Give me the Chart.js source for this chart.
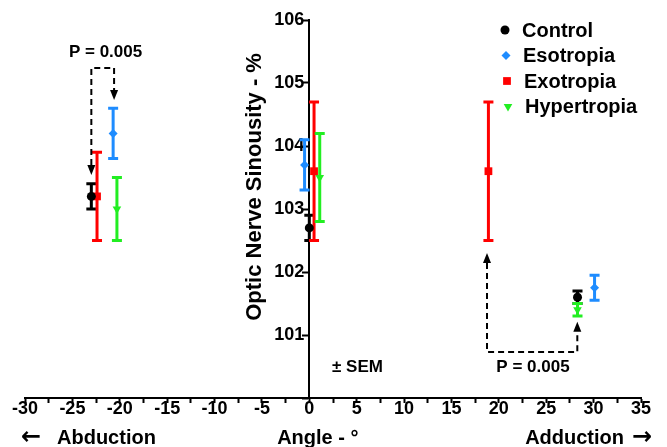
<!DOCTYPE html>
<html>
<head>
<meta charset="utf-8">
<script src="https://cdn.jsdelivr.net/npm/chart.js@4/dist/chart.umd.min.js"></script>
<style>
html,body{margin:0;padding:0;background:#fff;}
#wrap{width:667px;height:447px;position:relative;}
</style>
</head>
<body>
<div id="wrap"><canvas id="c" width="667" height="447"></canvas></div>
<script>
// ---- data ----
const seriesNames = ['Control', 'Esotropia', 'Exotropia', 'Hypertropia'];

const controlX = [-23.0, 0.0, 28.3];
const controlY = [103.2, 102.7, 101.6];
const controlSEM = [0.2, 0.2, 0.1];

const esotropiaX = [-20.7, -0.5, 30.1];
const esotropiaY = [104.2, 103.7, 101.75];
const esotropiaSEM = [0.4, 0.4, 0.2];

const exotropiaX = [-22.4, 0.5, 18.9];
const exotropiaY = [103.2, 103.6, 103.6];
const exotropiaSEM = [0.7, 1.1, 1.1];

const hypertropiaX = [-20.3, 1.1, 28.3];
const hypertropiaY = [103.0, 103.5, 101.4];
const hypertropiaSEM = [0.5, 0.7, 0.1];

const xTickLabels = [-30, -25, -20, -15, -10, -5, 0, 5, 10, 15, 20, 25, 30, 35];
const yTickLabels = [101, 102, 103, 104, 105, 106];

const pValueText = 'P = 0.005';
const semText = '\u00B1 SEM';
const yTitle = 'Optic Nerve Sinousity - %';
const xTitle = 'Angle - \u00B0';
const leftDirText = 'Abduction';
const rightDirText = 'Adduction';
const leftArrow = '\u2190';
const rightArrow = '\u2192';

// ---- styles ----
const FONT = "'Liberation Sans', Arial, Helvetica, sans-serif";
const ARROW_FONT = "'DejaVu Sans', 'Liberation Sans', sans-serif";
const seriesStyle = {
  Control:     { color: '#000000', pointStyle: 'circle',  radius: 4.5, rotation: 0 },
  Esotropia:   { color: '#1E8CFF', pointStyle: 'rectRot', radius: 4.5, rotation: 0 },
  Exotropia:   { color: '#FF0000', pointStyle: 'rect',    radius: 5.5, rotation: 0 },
  Hypertropia: { color: '#22EE22', pointStyle: 'triangle',radius: 5,   rotation: 180 }
};
const seriesData = {
  Control: [controlX, controlY, controlSEM],
  Esotropia: [esotropiaX, esotropiaY, esotropiaSEM],
  Exotropia: [exotropiaX, exotropiaY, exotropiaSEM],
  Hypertropia: [hypertropiaX, hypertropiaY, hypertropiaSEM]
};

const datasets = seriesNames.map(name => {
  const [xs, ys, sem] = seriesData[name];
  const st = seriesStyle[name];
  return {
    label: name,
    data: xs.map((v, i) => ({ x: v, y: ys[i] })),
    sem: sem,
    showLine: false,
    pointStyle: st.pointStyle,
    pointRadius: st.radius,
    pointRotation: st.rotation,
    pointBackgroundColor: st.color,
    pointBorderColor: st.color,
    pointBorderWidth: 0,
    backgroundColor: st.color,
    borderColor: st.color
  };
});

// ---- plugins ----
const errorBars = {
  id: 'errorBars',
  beforeDatasetsDraw(chart) {
    const { ctx, scales: { x, y } } = chart;
    chart.data.datasets.forEach(ds => {
      ctx.save();
      ctx.strokeStyle = ds.borderColor;
      ctx.lineWidth = 3;
      ctx.lineCap = 'butt';
      ds.data.forEach((p, j) => {
        const px = x.getPixelForValue(p.x);
        const yt = y.getPixelForValue(p.y + ds.sem[j]);
        const yb = y.getPixelForValue(p.y - ds.sem[j]);
        ctx.beginPath();
        ctx.moveTo(px, yt); ctx.lineTo(px, yb);
        ctx.moveTo(px - 5, yt); ctx.lineTo(px + 5, yt);
        ctx.moveTo(px - 5, yb); ctx.lineTo(px + 5, yb);
        ctx.stroke();
      });
      ctx.restore();
    });
  }
};

// comparison brackets in data units
const brackets = [
  { x1: -23.0, tip1: 103.54, x2: -20.6, tip2: 104.73, level: 105.24 },
  { x1: 18.75, tip1: 102.3, x2: 28.28, tip2: 101.21, level: 100.73 }
];
const notes = [
  { text: pValueText, x: -21.5, y: 105.49, align: 'center' },
  { text: pValueText, x: 23.6, y: 100.48, align: 'center' },
  { text: semText, x: 2.4, y: 100.48, align: 'left' }
];

const annotations = {
  id: 'annotations',
  afterDraw(chart) {
    const { ctx, scales: { x, y }, chartArea } = chart;
    ctx.save();
    // brackets
    ctx.strokeStyle = '#000';
    ctx.fillStyle = '#000';
    ctx.lineWidth = 2;
    const AH = 10, AW = 4;
    brackets.forEach(b => {
      const xa = x.getPixelForValue(b.x1), xb = x.getPixelForValue(b.x2);
      const yl = y.getPixelForValue(b.level);
      const ya = y.getPixelForValue(b.tip1), yb = y.getPixelForValue(b.tip2);
      const da = ya > yl ? 1 : -1, db = yb > yl ? 1 : -1;
      ctx.setLineDash([6, 4]);
      ctx.beginPath();
      ctx.moveTo(xa, ya - da * AH);
      ctx.lineTo(xa, yl);
      ctx.lineTo(xb, yl);
      ctx.lineTo(xb, yb - db * AH);
      ctx.stroke();
      ctx.setLineDash([]);
      [[xa, ya, da], [xb, yb, db]].forEach(([ax, ay, d]) => {
        ctx.beginPath();
        ctx.moveTo(ax, ay);
        ctx.lineTo(ax - AW, ay - d * AH);
        ctx.lineTo(ax + AW, ay - d * AH);
        ctx.closePath();
        ctx.fill();
      });
    });
    // notes
    ctx.font = 'bold 17px ' + FONT;
    ctx.textBaseline = 'middle';
    notes.forEach(n => {
      ctx.textAlign = n.align;
      ctx.fillText(n.text, x.getPixelForValue(n.x), y.getPixelForValue(n.y));
    });
    // y axis title
    ctx.save();
    ctx.font = 'bold 22px ' + FONT;
    ctx.textAlign = 'center';
    ctx.textBaseline = 'middle';
    ctx.translate(x.getPixelForValue(0) - 54, y.getPixelForValue(103.35));
    ctx.rotate(-Math.PI / 2);
    ctx.fillText(yTitle, 0, 0);
    ctx.restore();
    // x titles
    const ty = 438;
    ctx.textBaseline = 'middle';
    ctx.font = 'bold 24px ' + ARROW_FONT;
    ctx.textAlign = 'left';
    ctx.fillText(leftArrow, chartArea.left - 4, ty);
    ctx.textAlign = 'right';
    ctx.fillText(rightArrow, chartArea.right + 11, ty);
    ctx.font = 'bold 20px ' + FONT;
    ctx.textAlign = 'left';
    ctx.fillText(leftDirText, chartArea.left + 32, ty);
    ctx.textAlign = 'center';
    ctx.fillText(xTitle, x.getPixelForValue(0.9), ty);
    ctx.textAlign = 'right';
    ctx.fillText(rightDirText, chartArea.right - 17, ty);
    // legend
    ctx.font = 'bold 20px ' + FONT;
    ctx.textAlign = 'left';
    ctx.textBaseline = 'middle';
    seriesNames.forEach((name, i) => {
      const st = seriesStyle[name];
      const ly = 30 + i * 25.5;
      ctx.fillStyle = st.color;
      ctx.strokeStyle = st.color;
      Chart.helpers.drawPoint(ctx, {
        pointStyle: st.pointStyle,
        radius: st.radius,
        rotation: st.rotation,
        borderWidth: 0
      }, 505 + i, ly);
      ctx.fillStyle = '#000';
      ctx.fillText(name, 522 + i, ly + 1);
    });
    ctx.restore();
  }
};

new Chart(document.getElementById('c'), {
  type: 'scatter',
  data: { datasets },
  options: {
    responsive: false,
    animation: false,
    events: [],
    layout: { padding: { left: 25, right: 26, top: 20, bottom: 0 } },
    plugins: {
      legend: { display: false },
      tooltip: { enabled: false },
      title: { display: false }
    },
    scales: {
      x: {
        type: 'linear',
        position: 'bottom',
        min: -30,
        max: 35,
        afterFit(s) { s.height = 49; },
        border: { display: true, color: '#000', width: 2 },
        grid: { display: true, drawOnChartArea: false, drawTicks: true, tickLength: 5, tickColor: '#000', tickWidth: 2 },
        ticks: {
          stepSize: 2.5,
          autoSkip: false,
          maxRotation: 0,
          minRotation: 0,
          padding: -2.5,
          color: '#000',
          font: { family: FONT, weight: 'bold', size: 18, lineHeight: 1 },
          callback: v => (xTickLabels.includes(v) ? String(v) : '')
        }
      },
      y: {
        type: 'linear',
        position: { x: 0 },
        min: 100,
        max: 106,
        afterFit(s) { s.width = 0; },
        border: { display: true, color: '#000', width: 2 },
        grid: { display: true, drawOnChartArea: false, drawTicks: true, tickLength: 6, tickColor: '#000', tickWidth: 2 },
        ticks: {
          stepSize: 1,
          autoSkip: false,
          color: '#000',
          font: { family: FONT, weight: 'bold', size: 18, lineHeight: 1 },
          callback: v => (yTickLabels.includes(v) ? String(v) + ' ' : '')
        }
      }
    }
  },
  plugins: [errorBars, annotations]
});
</script>
</body>
</html>
